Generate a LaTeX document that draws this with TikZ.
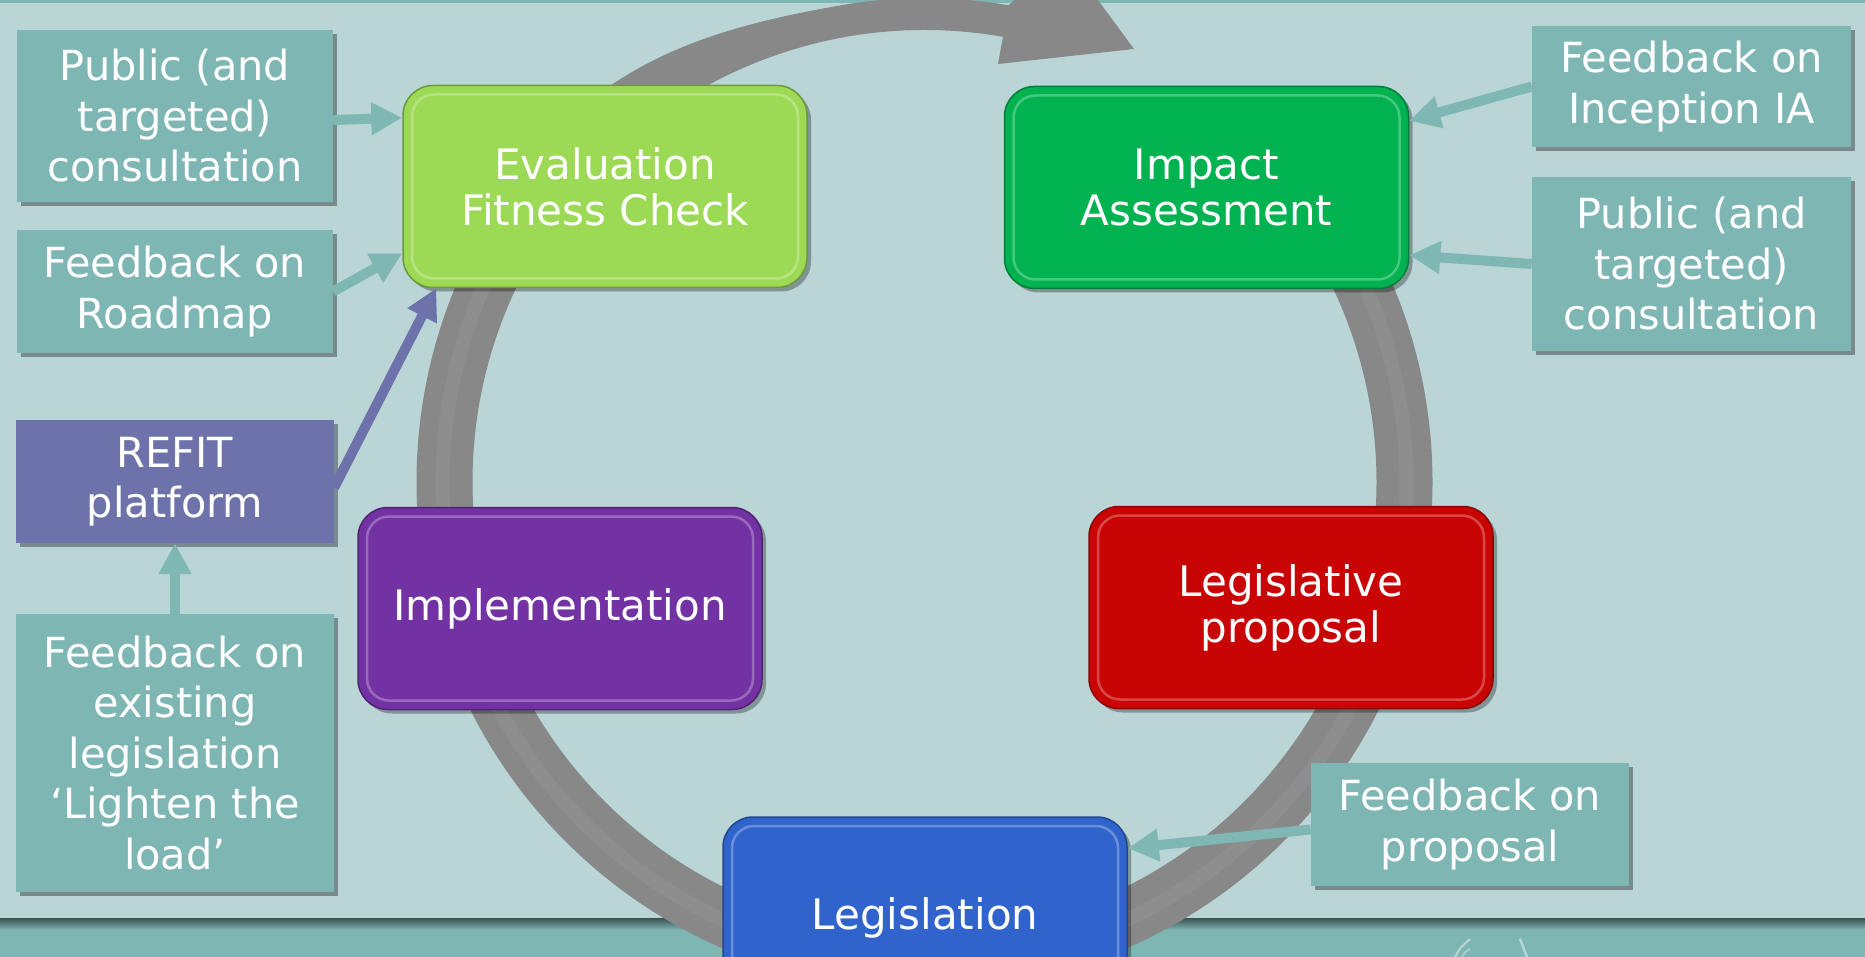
\documentclass[tikz,border=0pt]{standalone}
\usepackage{fontspec}
\setmainfont{DejaVu Sans}
\usetikzlibrary{arrows.meta,shadows}
\definecolor{bgc}{HTML}{B9D5D6}
\definecolor{tealc}{HTML}{7EB6B4}
\definecolor{arrc}{HTML}{7FB7B5}
\definecolor{ringc}{HTML}{888888}
\definecolor{evalc}{HTML}{9CDA55}
\definecolor{impc}{HTML}{00B350}
\definecolor{implc}{HTML}{7332A3}
\definecolor{legpc}{HTML}{C80404}
\definecolor{legc}{HTML}{3064CC}
\definecolor{refitc}{HTML}{6D73AA}
\begin{document}
\begin{tikzpicture}[x=1pt,y=-1pt,
  tbox/.style={rectangle, fill=tealc, text=white, align=center, inner sep=0pt,
    font=\fontsize{41.5}{50.5}\selectfont,
    drop shadow={shadow xshift=4pt, shadow yshift=-4pt, opacity=.35, fill=black}},
  proc/.style={rectangle, rounded corners=30pt, fill=#1, draw=#1!70!black, line width=1.5pt,
    text=white, align=center, inner sep=0pt, minimum width=404pt, minimum height=202pt,
    font=\fontsize{42}{46}\selectfont,
    drop shadow={shadow xshift=4pt, shadow yshift=-4pt, opacity=.3, fill=black},
    path picture={\draw[draw=#1!45!white, line width=2.5pt, opacity=.5, rounded corners=22pt]
      ([shift={(9pt,-9pt)}]path picture bounding box.north west) rectangle
      ([shift={(-9pt,9pt)}]path picture bounding box.south east);}},
  fb/.style={draw=arrc, line width=10pt, -{Triangle[length=31pt,width=31pt]}},
  fbp/.style={draw=refitc, line width=10pt, -{Triangle[length=31pt,width=31pt]}},
  declare function={tt(\a)=min(1,max(0,(-100-\a)/35)); rr(\a)=484+24*tt(\a)*tt(\a)*(3-2*tt(\a));},
]
\useasboundingbox (0,0) rectangle (1865,957);
% background
\fill[bgc] (0,0) rectangle (1865,957);
\fill[tealc] (0,0) rectangle (1865,3);
% footer
\fill[tealc] (0,918) rectangle (1865,957);
\shade[top color=black!55!tealc, bottom color=tealc] (0,918) rectangle (1865,930);
\draw[white, opacity=.45, line width=2pt] (1455,957) .. controls (1460,948) .. (1470,939);
\draw[white, opacity=.35, line width=2pt] (1462,957) .. controls (1465,952) .. (1470,949);
\draw[white, opacity=.45, line width=2.5pt] (1520,939) .. controls (1523,948) .. (1527,957);
% ring arrow
\coordinate (C) at (924.5,482);
\fill[ringc] ([shift={(-80:452)}]C) -- (998,64) -- (1134,49) -- (1064,-46)
  -- plot[domain=-80:-135, samples=60, smooth] ({924.5+rr(\x)*cos(\x)}, {482+rr(\x)*sin(\x)})
  arc[start angle=-135, end angle=-405, radius=508]
  -- ([shift={(-405:452)}]C) arc[start angle=-405, end angle=-80, radius=452] -- cycle;
\draw[white, opacity=.05, line width=14pt] ([shift={(-135:482)}]C) arc[start angle=-135, end angle=-405, radius=482];
% process boxes
\node[proc=evalc] (eval) at (605,186.5) {Evaluation\\Fitness Check};
\node[proc=impc] (impact) at (1206.5,187.5) {Impact\\Assessment};
\node[proc=implc] (impl) at (560,608.5) {Implementation};
\node[proc=legpc] (legp) at (1291,607.5) {Legislative\\proposal};
\node[proc=legc] (leg) at (925,918) {Legislation};
% side boxes
\node[tbox, minimum width=316pt, minimum height=172pt] (pc1) at (175,116) {Public (and\\targeted)\\consultation};
\node[tbox, minimum width=316pt, minimum height=123pt] (fbr) at (175,291.5) {Feedback on\\Roadmap};
\node[tbox, fill=refitc, minimum width=318pt, minimum height=123pt] (refit) at (175,481.5) {REFIT\\platform};
\node[tbox, minimum width=318pt, minimum height=278pt] (fbe) at (175,753) {Feedback on\\existing\\legislation\\‘Lighten the\\load’};
\node[tbox, minimum width=319pt, minimum height=121pt] (fbi) at (1691.5,86.5) {Feedback on\\Inception IA};
\node[tbox, minimum width=319pt, minimum height=174pt] (pcr) at (1691.5,264) {Public (and\\targeted)\\consultation};
\node[tbox, minimum width=318pt, minimum height=123pt] (fbpr) at (1470,824.5) {Feedback on\\proposal};
% connectors
\draw[fb] ([yshift=-4pt]pc1.east) -- ([yshift=-33pt]eval.north west);
\draw[fb] (fbr.east) -- ([yshift=35pt]eval.south west);
\draw[fbp] ([yshift=-6pt]refit.east) -- ([xshift=34pt]eval.south west);
\draw[fb] (fbe.north) -- (refit.south);
\draw[fb] (fbi.west) -- ([yshift=-35pt]impact.north east);
\draw[fb] (pcr.west) -- ([yshift=34pt]impact.south east);
\draw[fb] ([yshift=-5pt]fbpr.west) -- ([yshift=-32pt]leg.north east);
\end{tikzpicture}
\end{document}
